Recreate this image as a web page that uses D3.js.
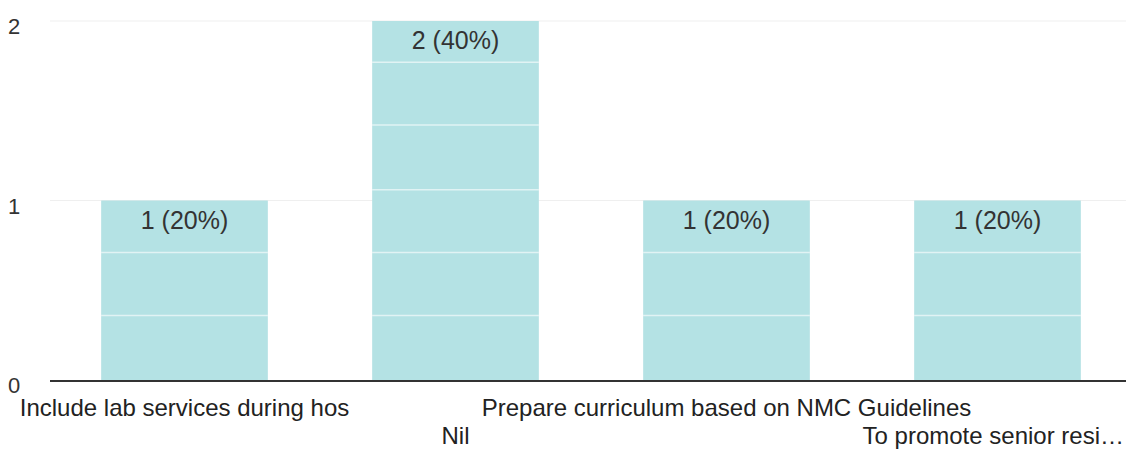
<!DOCTYPE html>
<html><head><meta charset="utf-8">
<script src="https://cdn.jsdelivr.net/npm/d3@7"></script>
<style>body{margin:0;background:#fff}svg{display:block}text{font-family:"Liberation Sans",Arial,sans-serif}</style>
</head><body><svg id="c" width="1126" height="449"></svg>
<script>
const categories = ["Include lab services during hos", "Nil", "Prepare curriculum based on NMC Guidelines", "To promote senior resi…"];
const counts = [1, 2, 1, 1];
const percents = ["20%", "40%", "20%", "20%"];
const yTicks = [0, 1, 2];
const stripes = [0.36, 0.71, 1.06, 1.42, 1.77];

const W = 1126;
const svg = d3.select("#c");
const x = d3.scaleBand().domain(categories).range([49, 1133]).paddingInner(0.385).paddingOuter(0.1925);
const y = d3.scaleLinear().domain([0, 2]).range([380, 21]);

// gridlines
svg.append("g").selectAll("line").data(yTicks.filter(d => d > 0)).join("line")
  .attr("x1", 50).attr("x2", W).attr("y1", d => y(d)).attr("y2", d => y(d))
  .attr("stroke", "#efefef").attr("stroke-width", 1);

// y labels
svg.append("g").selectAll("text").data(yTicks).join("text")
  .attr("x", 14).attr("y", d => y(d) + 13).attr("text-anchor", "middle")
  .attr("font-size", 22).attr("fill", "#333").text(d => d);

const data = categories.map((c, i) => ({c, v: counts[i], p: percents[i]}));
const bars = svg.append("g").selectAll("g").data(data).join("g");
bars.append("rect").attr("x", d => x(d.c)).attr("width", x.bandwidth())
  .attr("y", d => y(d.v)).attr("height", d => y(0) - y(d.v)).attr("fill", "#b4e2e4");
bars.each(function(d) {
  d3.select(this).selectAll("line").data(stripes.filter(s => s < d.v)).join("line")
    .attr("x1", x(d.c)).attr("x2", x(d.c) + x.bandwidth())
    .attr("y1", s => y(s)).attr("y2", s => y(s))
    .attr("stroke", "#ffffff").attr("stroke-opacity", 0.6).attr("stroke-width", 1.5);
});
bars.append("text").attr("x", d => x(d.c) + x.bandwidth() / 2).attr("y", d => y(d.v) + 28)
  .attr("text-anchor", "middle").attr("font-size", 25).attr("fill", "#333")
  .text(d => `${d.v} (${d.p})`);

// axis line
svg.append("line").attr("x1", 50).attr("x2", W).attr("y1", y(0) + 1).attr("y2", y(0) + 1)
  .attr("stroke", "#333").attr("stroke-width", 2);

// x labels, staggered, clamped inside the frame
svg.append("g").selectAll("text").data(categories).join("text")
  .attr("x", d => x(d) + x.bandwidth() / 2)
  .attr("y", (d, i) => i % 2 === 0 ? 416 : 444)
  .attr("text-anchor", "middle").attr("font-size", 24).attr("fill", "#222").text(d => d)
  .each(function() {
    const b = this.getBBox();
    const over = b.x + b.width - (W - 2);
    if (over > 0) d3.select(this).attr("x", +d3.select(this).attr("x") - over);
  });
</script></body></html>
